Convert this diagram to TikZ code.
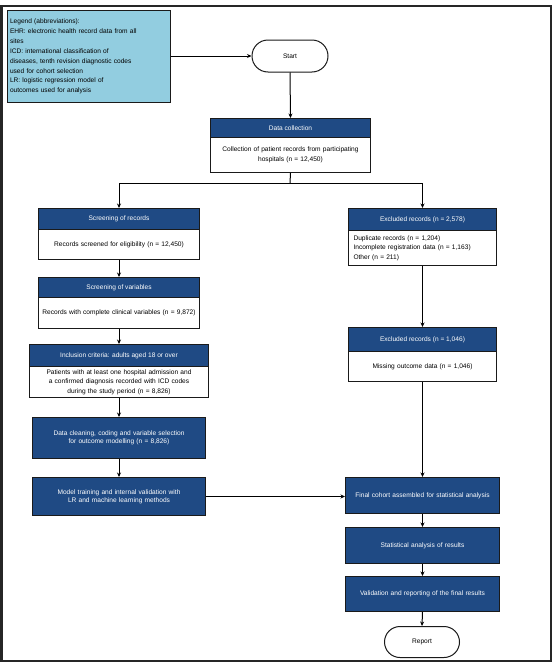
\documentclass[tikz,border=0pt]{standalone}
\usepackage{fontspec}
\setmainfont{Liberation Sans}
\usetikzlibrary{arrows.meta,shapes.misc}
\definecolor{navy}{HTML}{1F4A84}
\definecolor{legblue}{HTML}{92CDE0}
\definecolor{boxline}{HTML}{1A1A1A}
\tikzset{
  hdr/.style={draw=boxline, line width=1pt, fill=navy, text=white,
    font=\fontsize{6.6}{8}\selectfont, align=center, inner sep=1pt, anchor=north west},
  bodyb/.style={draw=boxline, line width=1pt, fill=white, text=black,
    font=\fontsize{6.6}{9.5}\selectfont, align=center, inner sep=1pt, anchor=north west},
  term/.style={draw=boxline, line width=1pt, fill=white, rounded rectangle,
    font=\fontsize{6.6}{8}\selectfont, inner sep=1pt},
  arr/.style={line width=1pt, -{Stealth[length=4.5pt,width=4pt]}},
  ln/.style={line width=1pt}
}
\begin{document}
\begin{tikzpicture}[x=1pt,y=-1pt]
\useasboundingbox (0,0) rectangle (554,664);
\fill[white] (0,0) rectangle (554,664);
\draw[line width=2.5pt, black!85] (1.5,6) rectangle (551,661);

% legend
\node[draw=boxline, line width=1pt, fill=legblue, anchor=north west,
  minimum width=163pt, minimum height=92pt, text width=158pt, inner sep=2pt,
  align=left, font=\fontsize{6.6}{9.9}\selectfont] (legend) at (7,10)
  {Legend (abbreviations):\\
   EHR: electronic health record data from all\\
   sites\\
   ICD: international classification of\\
   diseases, tenth revision diagnostic codes\\
   used for cohort selection\\
   LR: logistic regression model of\\
   outcomes used for analysis};

% start
\node[term, minimum width=78pt, minimum height=32pt] (start) at (290,56) {Start};

% box 1
\node[hdr, minimum width=160pt, minimum height=19pt] (b1h) at (210,118) {Data collection};
\node[bodyb, minimum width=160pt, minimum height=35pt, text width=152pt] (b1b) at (210,137)
  {Collection of patient records from participating\\hospitals (n = 12,450)};

% left column
\node[hdr, minimum width=161pt, minimum height=21pt] (ah) at (38,208) {Screening of records};
\node[bodyb, minimum width=161pt, minimum height=30pt, text width=155pt] (ab) at (38,229)
  {Records screened for eligibility (n = 12,450)};

\node[hdr, minimum width=161pt, minimum height=20pt] (bh) at (38,277) {Screening of variables};
\node[bodyb, minimum width=161pt, minimum height=31pt, text width=155pt] (bb) at (38,297)
  {Records with complete clinical variables (n = 9,872)};

\node[hdr, minimum width=179pt, minimum height=22pt] (ch) at (29,344) {Inclusion criteria: adults aged 18 or over};
\node[bodyb, minimum width=179pt, minimum height=31pt, text width=172pt] (cb) at (29,366)
  {Patients with at least one hospital admission and\\a confirmed diagnosis recorded with ICD codes\\during the study period (n = 8,826)};

\node[hdr, minimum width=173pt, minimum height=41pt, text width=165pt] (d) at (32,417)
  {Data cleaning, coding and variable selection\\for outcome modelling (n = 8,826)};

\node[hdr, minimum width=173pt, minimum height=38pt, text width=165pt] (e) at (32,477)
  {Model training and internal validation with\\LR and machine learning methods};

% right column
\node[hdr, minimum width=148pt, minimum height=22pt] (r1h) at (348,208) {Excluded records (n = 2,578)};
\node[bodyb, minimum width=148pt, minimum height=35pt, text width=138pt, align=left] (r1b) at (348,230)
  {Duplicate records (n = 1,204)\\Incomplete registration data (n = 1,163)\\Other (n = 211)};

\node[hdr, minimum width=148pt, minimum height=24pt] (r2h) at (348,327) {Excluded records (n = 1,046)};
\node[bodyb, minimum width=148pt, minimum height=30pt, text width=140pt] (r2b) at (348,351)
  {Missing outcome data (n = 1,046)};

\node[hdr, minimum width=154pt, minimum height=36pt, text width=148pt] (f) at (345,477)
  {Final cohort assembled for statistical analysis};
\node[hdr, minimum width=154pt, minimum height=36pt, text width=148pt] (g) at (345,527)
  {Statistical analysis of results};
\node[hdr, minimum width=154pt, minimum height=35pt, text width=148pt] (h) at (345,576)
  {Validation and reporting of the final results};

\node[term, minimum width=77pt, minimum height=31pt] (stop) at (422,642) {Report};

% connectors
\coordinate (split) at (290,183);
\draw[arr] (legend.east |- start.west) -- (start.west);
\draw[arr] (start.south) -- (b1h.north);
\draw[ln] (b1b.south) -- (split);
\draw[arr] (split) -| (ah.north);
\draw[arr] (split) -| (r1h.north);
\draw[arr] (ab.south) -- (bh.north);
\draw[arr] (bb.south) -- (ch.north);
\draw[arr] (cb.south) -- (d.north);
\draw[arr] (d.south) -- (e.north);
\draw[arr] (e.east) -- (e.east -| f.west);
\draw[arr] (r1b.south) -- (r2h.north);
\draw[arr] (r2b.south) -- (f.north);
\draw[arr] (f.south) -- (g.north);
\draw[arr] (g.south) -- (h.north);
\draw[arr] (h.south) -- (stop.north);
\end{tikzpicture}
\end{document}
